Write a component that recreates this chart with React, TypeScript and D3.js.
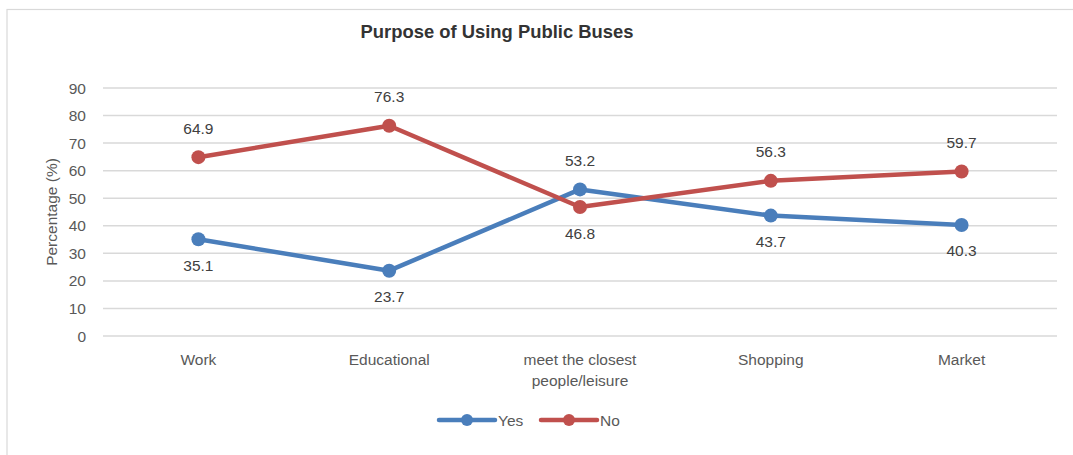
import React from "react";
import * as d3 from "d3";

const categories = ["Work", "Educational", "meet the closest people/leisure", "Shopping", "Market"];
const categoryLines = [["Work"], ["Educational"], ["meet the closest", "people/leisure"], ["Shopping"], ["Market"]];
const yesValues = [35.1, 23.7, 53.2, 43.7, 40.3];
const noValues = [64.9, 76.3, 46.8, 56.3, 59.7];
const yTicks = [0, 10, 20, 30, 40, 50, 60, 70, 80, 90];
const yesLabelAbove = [false, false, true, false, false];
const noLabelAbove = [true, true, false, true, true];

const W = 1073, H = 455;
const left = 103, right = 1057, top = 88, bottom = 336;
const BLUE = "#4A7EBB";
const RED = "#C0504D";
const FONT = "'Liberation Sans', Arial, sans-serif";
const FS = 15.5;

export default function App() {
  const x = d3.scaleBand<string>().domain(categories).range([left, right]);
  const y = d3.scaleLinear().domain([0, 90]).range([bottom, top]);
  const cx = (c: string) => (x(c) as number) + x.bandwidth() / 2;
  const line = d3.line<number>().x((_, i) => cx(categories[i])).y((v) => y(v));

  const series = [
    { name: "Yes", values: yesValues, color: BLUE, above: yesLabelAbove },
    { name: "No", values: noValues, color: RED, above: noLabelAbove },
  ];

  return (
    <svg width={W} height={H} style={{ position: "absolute", left: 0, top: 0 }} fontFamily={FONT}>
      <rect x={0} y={0} width={W} height={H} fill="#fff" />
      <rect x={7} y={9.5} width={1080} height={460} fill="none" stroke="#d9d9d9" strokeWidth={1.2} />
      <text x={497} y={38} textAnchor="middle" fontSize={18.4} fontWeight="bold" fill="#333">
        Purpose of Using Public Buses
      </text>
      {yTicks.map((t) => (
        <g key={t}>
          <line x1={left} x2={right} y1={y(t)} y2={y(t)} stroke="#d9d9d9" strokeWidth={1.5} />
          <text x={86} y={y(t) + 5.5} textAnchor="end" fontSize={FS} fill="#595959">{t}</text>
        </g>
      ))}
      <text transform={`translate(57,${(top + bottom) / 2}) rotate(-90)`} textAnchor="middle" fontSize={FS} fill="#595959">
        Percentage (%)
      </text>
      {categories.map((c, i) => (
        <text key={c} x={cx(c)} y={364.5} textAnchor="middle" fontSize={FS} fill="#595959">
          {categoryLines[i].map((l, j) => (
            <tspan key={j} x={cx(c)} dy={j === 0 ? 0 : 21}>{l}</tspan>
          ))}
        </text>
      ))}
      {series.map((s) => (
        <g key={s.name}>
          <path d={line(s.values) as string} fill="none" stroke={s.color} strokeWidth={4.5} strokeLinejoin="round" strokeLinecap="round" />
          {s.values.map((v, i) => (
            <circle key={i} cx={cx(categories[i])} cy={y(v)} r={7} fill={s.color} />
          ))}
        </g>
      ))}
      {series.map((s) =>
        s.values.map((v, i) => (
          <text key={s.name + i} x={cx(categories[i])} y={y(v) + (s.above[i] ? -23.5 : 31.5)} textAnchor="middle" fontSize={FS} fill="#404040">
            {v.toFixed(1)}
          </text>
        ))
      )}
      {series.map((s, k) => {
        const lx = 439 + k * 102;
        return (
          <g key={s.name}>
            <line x1={lx} x2={lx + 56} y1={420} y2={420} stroke={s.color} strokeWidth={4.5} strokeLinecap="round" />
            <circle cx={lx + 28} cy={420} r={6} fill={s.color} />
            <text x={lx + 59} y={425.5} fontSize={FS} fill="#595959">{s.name}</text>
          </g>
        );
      })}
    </svg>
  );
}
